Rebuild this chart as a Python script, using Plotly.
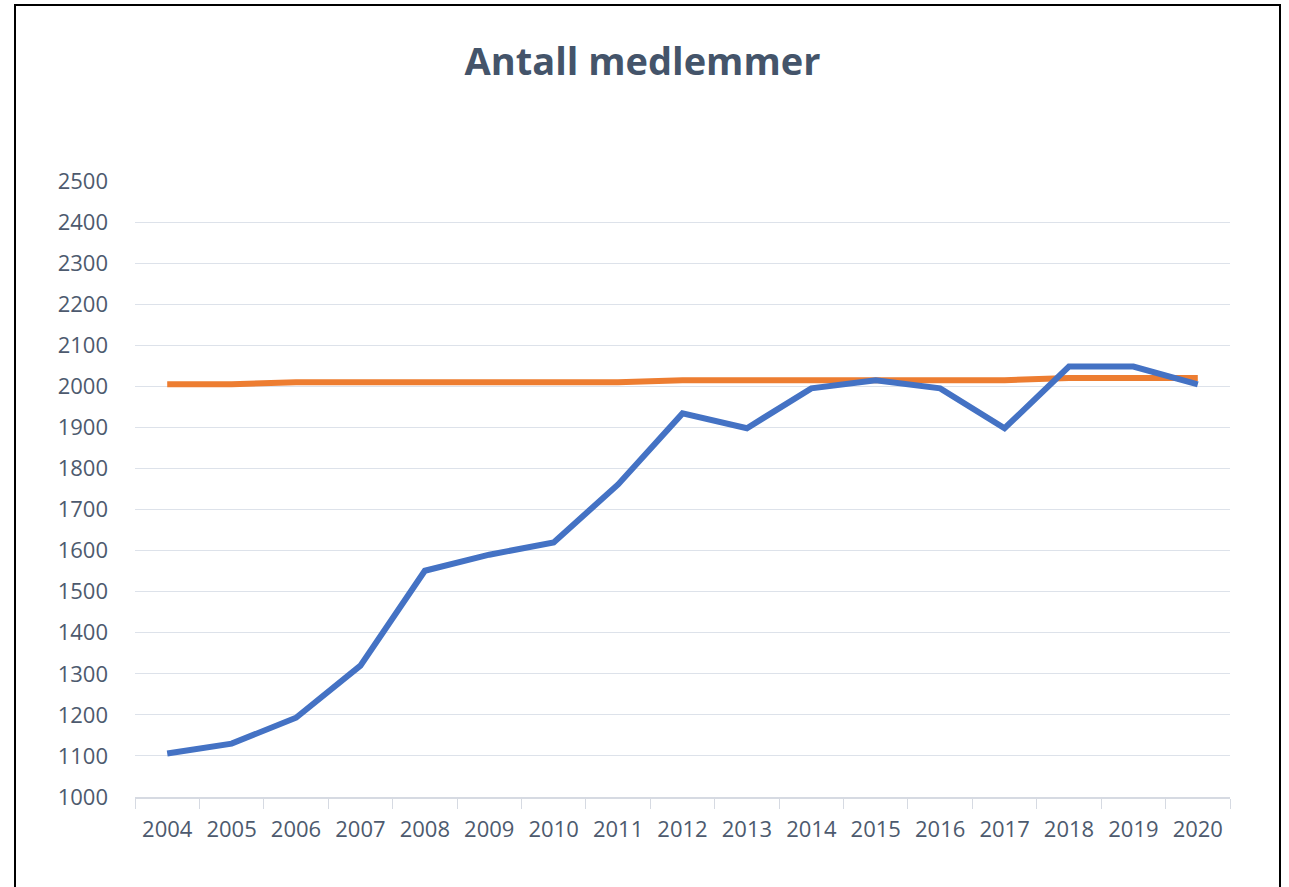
import plotly.graph_objects as go

years = [str(y) for y in range(2004, 2021)]
members = [1106, 1130, 1193, 1320, 1551, 1590, 1620, 1761, 1934, 1898, 1995, 2015, 1995, 1898, 2048, 2048, 2005]
target = [2005, 2005, 2010, 2010, 2010, 2010, 2010, 2010, 2015, 2015, 2015, 2015, 2015, 2015, 2020, 2020, 2020]
y_ticks = list(range(1000, 2501, 100))

FONT = "Open Sans"
TXT = "#4D5A6E"

W, H = 1289, 887
L, R, T, B = 135, 59, 181, 90
pw = W - L - R
ph = H - T - B

fig = go.Figure()
fig.add_trace(go.Scatter(x=years, y=target, mode="lines",
                         line=dict(color="#ED7D31", width=6), name="Mål"))
fig.add_trace(go.Scatter(x=years, y=members, mode="lines",
                         line=dict(color="#4472C4", width=6), name="Medlemmer"))

fig.update_layout(
    width=W, height=H,
    margin=dict(l=L, r=R, t=T, b=B),
    paper_bgcolor="white", plot_bgcolor="white",
    showlegend=False,
    title=dict(text="<b>Antall medlemmer</b>", x=642.5 / W, xref="container", xanchor="center",
               y=1 - 62 / H, yref="container", yanchor="middle",
               font=dict(family=FONT, size=38, color="#44546A")),
    font=dict(family=FONT, color=TXT),
)
fig.update_xaxes(
    type="category", range=[-0.5, len(years) - 0.5], tickson="boundaries",
    ticks="outside", ticklen=10,
    tickcolor="#D6DAE2", tickwidth=1.2, showline=True, linecolor="#D6DAE2", linewidth=1.5,
    showgrid=False, tickfont=dict(family=FONT, size=22, color=TXT), ticklabelstandoff=12,
)
fig.update_yaxes(
    range=[1000, 2500], tickvals=y_ticks, ticktext=[str(v) for v in y_ticks],
    showgrid=True, gridcolor="#DDE2EA", gridwidth=1.2, zeroline=False, showline=False,
    tickfont=dict(family=FONT, size=22, color=TXT), ticklabelstandoff=26,
)
# outer frame (page pixel positions converted to paper units)
fig.add_shape(type="rect", xref="paper", yref="paper",
              x0=(15 - L) / pw, x1=(1280 - L) / pw,
              y0=(H - T - 900) / ph, y1=(H - B - 5) / ph,
              line=dict(color="black", width=2), fillcolor="rgba(0,0,0,0)", layer="above")

fig.write_html("out.html", config={"displayModeBar": False},
               post_script="document.body.style.margin='0';")
